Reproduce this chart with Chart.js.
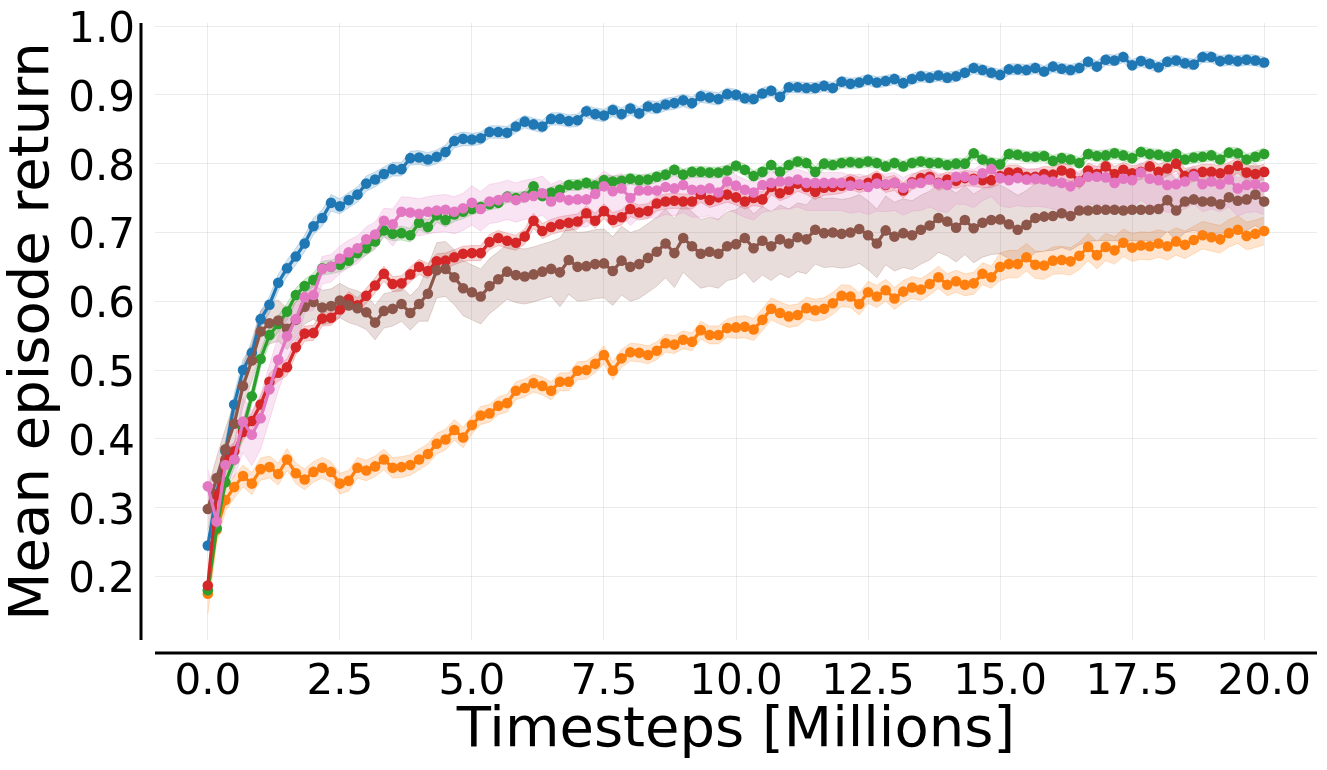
<!DOCTYPE html>
<html>
<head>
<meta charset="utf-8">
<script src="https://cdn.jsdelivr.net/npm/chart.js@4.4.1/dist/chart.umd.min.js"></script>
<style>
html, body { margin: 0; padding: 0; background: #fff; overflow: hidden; }
#wrap { width: 1327px; height: 770px; position: relative; }
#chart { display: block; }
</style>
</head>
<body>
<div id="wrap"><canvas id="chart"></canvas></div>
<script>
// evaluation every 1/6 million steps, 121 evaluations
var evalEvery = 1 / 6;
var nEvals = 121;
var timesteps = [];
for (var i = 0; i < nEvals; i++) timesteps.push(i * evalEvery);

var xTicks = [0, 2.5, 5, 7.5, 10, 12.5, 15, 17.5, 20];
var yTicks = [0.2, 0.3, 0.4, 0.5, 0.6, 0.7, 0.8, 0.9, 1.0];

// mean episode return per run
var blueMean = [
 0.245,0.320,0.382,0.450,0.500,0.525,0.574,0.595,0.627,0.648,
 0.665,0.684,0.709,0.721,0.743,0.738,0.747,0.755,0.771,0.777,
 0.785,0.792,0.792,0.808,0.809,0.806,0.810,0.817,0.833,0.836,
 0.835,0.837,0.846,0.846,0.845,0.854,0.861,0.857,0.854,0.865,
 0.865,0.862,0.863,0.876,0.872,0.870,0.878,0.872,0.880,0.873,
 0.883,0.881,0.886,0.888,0.892,0.888,0.898,0.896,0.894,0.901,
 0.900,0.895,0.894,0.902,0.906,0.897,0.911,0.911,0.910,0.910,
 0.913,0.910,0.919,0.916,0.918,0.922,0.918,0.920,0.923,0.917,
 0.923,0.927,0.925,0.928,0.925,0.927,0.932,0.939,0.936,0.932,
 0.929,0.937,0.937,0.936,0.939,0.934,0.941,0.938,0.936,0.939,
 0.948,0.941,0.951,0.950,0.955,0.943,0.949,0.945,0.940,0.948,
 0.950,0.946,0.944,0.955,0.955,0.949,0.951,0.949,0.951,0.950,
 0.947];
var orangeMean = [
 0.175,0.268,0.311,0.330,0.346,0.335,0.356,0.359,0.349,0.370,
 0.350,0.341,0.352,0.358,0.352,0.335,0.339,0.358,0.354,0.360,
 0.370,0.358,0.359,0.362,0.370,0.378,0.393,0.399,0.413,0.402,
 0.420,0.434,0.437,0.448,0.452,0.470,0.474,0.481,0.477,0.470,
 0.483,0.483,0.499,0.500,0.509,0.522,0.499,0.517,0.526,0.525,
 0.522,0.528,0.539,0.537,0.544,0.541,0.558,0.551,0.551,0.561,
 0.562,0.563,0.559,0.573,0.589,0.583,0.578,0.580,0.590,0.587,
 0.589,0.597,0.608,0.607,0.596,0.613,0.607,0.616,0.604,0.614,
 0.620,0.617,0.625,0.635,0.624,0.629,0.624,0.626,0.640,0.635,
 0.650,0.654,0.654,0.664,0.653,0.652,0.659,0.660,0.658,0.666,
 0.679,0.667,0.679,0.674,0.685,0.678,0.681,0.680,0.684,0.680,
 0.687,0.682,0.689,0.696,0.693,0.690,0.699,0.704,0.695,0.698,
 0.702];
var greenMean = [
 0.180,0.270,0.337,0.370,0.415,0.462,0.516,0.551,0.567,0.585,
 0.609,0.622,0.631,0.648,0.650,0.653,0.659,0.670,0.677,0.687,
 0.703,0.698,0.699,0.696,0.714,0.708,0.725,0.718,0.726,0.730,
 0.734,0.737,0.741,0.743,0.752,0.750,0.752,0.767,0.753,0.758,
 0.762,0.769,0.769,0.772,0.768,0.776,0.774,0.775,0.778,0.776,
 0.777,0.781,0.784,0.791,0.784,0.788,0.788,0.787,0.787,0.790,
 0.797,0.791,0.782,0.788,0.798,0.788,0.798,0.803,0.801,0.788,
 0.800,0.798,0.801,0.802,0.801,0.803,0.801,0.796,0.801,0.796,
 0.801,0.803,0.801,0.801,0.798,0.800,0.800,0.815,0.806,0.801,
 0.799,0.814,0.813,0.810,0.810,0.811,0.804,0.808,0.806,0.801,
 0.814,0.811,0.812,0.815,0.812,0.808,0.817,0.814,0.813,0.810,
 0.814,0.806,0.809,0.810,0.812,0.806,0.816,0.815,0.806,0.810,
 0.814];
var redMean = [
 0.187,0.318,0.370,0.382,0.410,0.426,0.450,0.483,0.496,0.504,
 0.533,0.553,0.554,0.575,0.576,0.588,0.603,0.594,0.608,0.623,
 0.640,0.625,0.626,0.639,0.650,0.644,0.658,0.659,0.664,0.669,
 0.670,0.670,0.686,0.692,0.688,0.685,0.694,0.717,0.702,0.708,
 0.712,0.714,0.716,0.728,0.717,0.731,0.718,0.722,0.734,0.729,
 0.731,0.742,0.745,0.746,0.745,0.745,0.755,0.747,0.751,0.755,
 0.751,0.745,0.750,0.748,0.766,0.757,0.762,0.771,0.766,0.759,
 0.765,0.766,0.768,0.774,0.769,0.772,0.779,0.769,0.772,0.761,
 0.773,0.779,0.781,0.772,0.777,0.775,0.779,0.778,0.776,0.776,
 0.782,0.787,0.787,0.781,0.781,0.785,0.784,0.790,0.786,0.774,
 0.790,0.785,0.796,0.785,0.791,0.786,0.788,0.796,0.788,0.793,
 0.800,0.782,0.785,0.788,0.788,0.786,0.791,0.797,0.787,0.785,
 0.788];
var brownMean = [
 0.298,0.343,0.385,0.422,0.477,0.514,0.556,0.568,0.572,0.560,
 0.573,0.592,0.599,0.591,0.593,0.601,0.594,0.590,0.584,0.569,
 0.586,0.589,0.596,0.583,0.596,0.611,0.645,0.647,0.635,0.619,
 0.613,0.607,0.622,0.632,0.643,0.638,0.636,0.639,0.643,0.647,
 0.642,0.660,0.650,0.651,0.654,0.655,0.644,0.659,0.650,0.654,
 0.663,0.672,0.684,0.670,0.692,0.680,0.669,0.672,0.669,0.680,
 0.683,0.692,0.677,0.688,0.680,0.690,0.684,0.693,0.690,0.704,
 0.699,0.700,0.698,0.700,0.705,0.696,0.684,0.703,0.694,0.699,
 0.696,0.704,0.710,0.721,0.716,0.707,0.718,0.706,0.714,0.718,
 0.719,0.712,0.704,0.711,0.721,0.723,0.724,0.728,0.724,0.732,
 0.732,0.733,0.733,0.733,0.732,0.733,0.733,0.733,0.734,0.747,
 0.732,0.745,0.748,0.745,0.745,0.741,0.751,0.746,0.748,0.755,
 0.745];
var pinkMean = [
 0.331,0.280,0.362,0.370,0.425,0.406,0.430,0.472,0.515,0.549,
 0.574,0.606,0.609,0.647,0.650,0.662,0.671,0.677,0.690,0.697,
 0.717,0.712,0.730,0.729,0.727,0.730,0.732,0.733,0.730,0.735,
 0.743,0.734,0.745,0.747,0.751,0.747,0.751,0.753,0.757,0.745,
 0.751,0.747,0.748,0.748,0.756,0.767,0.760,0.764,0.750,0.761,
 0.761,0.761,0.766,0.764,0.769,0.762,0.762,0.764,0.758,0.774,
 0.768,0.762,0.758,0.769,0.772,0.774,0.774,0.777,0.772,0.772,
 0.772,0.772,0.772,0.768,0.770,0.766,0.771,0.770,0.772,0.765,
 0.771,0.772,0.777,0.771,0.769,0.781,0.781,0.776,0.786,0.792,
 0.779,0.776,0.779,0.777,0.778,0.777,0.774,0.772,0.767,0.774,
 0.781,0.781,0.780,0.772,0.778,0.776,0.787,0.778,0.776,0.769,
 0.770,0.774,0.782,0.770,0.774,0.770,0.777,0.764,0.769,0.770,
 0.766];

// half-width of the shaded band around each mean
var blueSd = [
 0.010,0.015,0.015,0.015,0.015,0.012,0.012,0.012,0.012,0.012,
 0.012,0.012,0.012,0.012,0.012,0.011,0.011,0.011,0.011,0.011,
 0.010,0.010,0.010,0.010,0.010,0.010,0.010,0.010,0.010,0.010,
 0.009,0.009,0.009,0.009,0.009,0.009,0.009,0.009,0.009,0.009,
 0.009,0.009,0.009,0.009,0.009,0.009,0.009,0.009,0.009,0.009,
 0.009,0.009,0.009,0.009,0.009,0.009,0.009,0.009,0.009,0.009,
 0.008,0.008,0.008,0.008,0.008,0.008,0.008,0.008,0.008,0.008,
 0.008,0.008,0.008,0.008,0.008,0.008,0.008,0.008,0.008,0.008,
 0.008,0.008,0.008,0.008,0.008,0.008,0.008,0.008,0.008,0.008,
 0.008,0.008,0.008,0.008,0.008,0.008,0.008,0.008,0.008,0.008,
 0.008,0.008,0.008,0.008,0.008,0.008,0.008,0.008,0.008,0.008,
 0.008,0.008,0.008,0.008,0.008,0.008,0.008,0.008,0.008,0.008,
 0.008];
var orangeSd = [
 0.030,0.020,0.016,0.016,0.016,0.016,0.016,0.016,0.016,0.016,
 0.015,0.015,0.015,0.015,0.015,0.015,0.015,0.015,0.015,0.015,
 0.015,0.015,0.015,0.015,0.015,0.015,0.015,0.015,0.015,0.015,
 0.013,0.013,0.013,0.013,0.013,0.013,0.013,0.013,0.013,0.013,
 0.013,0.013,0.013,0.013,0.013,0.013,0.013,0.013,0.013,0.013,
 0.013,0.013,0.013,0.013,0.013,0.013,0.013,0.013,0.013,0.013,
 0.016,0.016,0.016,0.016,0.016,0.016,0.016,0.016,0.016,0.016,
 0.016,0.016,0.016,0.016,0.016,0.016,0.016,0.016,0.016,0.016,
 0.016,0.016,0.016,0.016,0.016,0.016,0.016,0.016,0.016,0.016,
 0.020,0.020,0.020,0.020,0.020,0.020,0.020,0.020,0.020,0.020,
 0.020,0.020,0.020,0.020,0.020,0.020,0.020,0.020,0.020,0.020,
 0.020,0.020,0.020,0.020,0.020,0.020,0.020,0.020,0.020,0.020,
 0.020];
var greenSd = [
 0.012,0.012,0.012,0.012,0.012,0.012,0.012,0.012,0.012,0.012,
 0.010,0.010,0.010,0.010,0.010,0.010,0.010,0.010,0.010,0.010,
 0.010,0.010,0.010,0.010,0.010,0.010,0.010,0.010,0.010,0.010,
 0.008,0.008,0.008,0.008,0.008,0.008,0.008,0.008,0.008,0.008,
 0.008,0.008,0.008,0.008,0.008,0.008,0.008,0.008,0.008,0.008,
 0.008,0.008,0.008,0.008,0.008,0.008,0.008,0.008,0.008,0.008,
 0.008,0.008,0.008,0.008,0.008,0.008,0.008,0.008,0.008,0.008,
 0.008,0.008,0.008,0.008,0.008,0.008,0.008,0.008,0.008,0.008,
 0.008,0.008,0.008,0.008,0.008,0.008,0.008,0.008,0.008,0.008,
 0.008,0.008,0.008,0.008,0.008,0.008,0.008,0.008,0.008,0.008,
 0.008,0.008,0.008,0.008,0.008,0.008,0.008,0.008,0.008,0.008,
 0.008,0.008,0.008,0.008,0.008,0.008,0.008,0.008,0.008,0.008,
 0.009];
var redSd = [
 0.012,0.012,0.012,0.012,0.012,0.012,0.012,0.012,0.012,0.012,
 0.011,0.011,0.011,0.011,0.011,0.011,0.011,0.011,0.011,0.011,
 0.011,0.011,0.011,0.011,0.011,0.011,0.011,0.011,0.011,0.011,
 0.011,0.011,0.011,0.011,0.011,0.011,0.011,0.011,0.011,0.011,
 0.011,0.011,0.011,0.011,0.011,0.011,0.011,0.011,0.011,0.011,
 0.011,0.011,0.011,0.011,0.011,0.011,0.011,0.011,0.011,0.011,
 0.011,0.011,0.011,0.011,0.011,0.011,0.011,0.011,0.011,0.011,
 0.011,0.011,0.011,0.011,0.011,0.011,0.011,0.011,0.011,0.011,
 0.011,0.011,0.011,0.011,0.011,0.011,0.011,0.011,0.011,0.011,
 0.011,0.011,0.011,0.011,0.011,0.011,0.011,0.011,0.011,0.011,
 0.011,0.011,0.011,0.011,0.011,0.011,0.011,0.011,0.011,0.011,
 0.011,0.011,0.011,0.011,0.011,0.011,0.011,0.011,0.011,0.011,
 0.011];
var brownSd = [
 0.030,0.030,0.030,0.030,0.030,0.030,0.030,0.030,0.030,0.030,
 0.025,0.025,0.025,0.025,0.025,0.025,0.025,0.025,0.025,0.025,
 0.025,0.025,0.025,0.025,0.025,0.040,0.040,0.040,0.040,0.040,
 0.040,0.040,0.040,0.040,0.040,0.040,0.040,0.040,0.040,0.040,
 0.050,0.050,0.050,0.050,0.050,0.050,0.050,0.050,0.050,0.050,
 0.050,0.050,0.050,0.050,0.050,0.050,0.050,0.050,0.050,0.050,
 0.050,0.050,0.050,0.050,0.050,0.050,0.050,0.050,0.050,0.050,
 0.050,0.050,0.050,0.050,0.050,0.050,0.050,0.050,0.050,0.050,
 0.050,0.050,0.050,0.050,0.050,0.050,0.050,0.050,0.050,0.050,
 0.050,0.050,0.050,0.050,0.050,0.050,0.050,0.050,0.050,0.050,
 0.045,0.045,0.045,0.045,0.045,0.045,0.045,0.045,0.045,0.045,
 0.045,0.045,0.045,0.045,0.045,0.045,0.045,0.045,0.045,0.045,
 0.045];
// pink band is lopsided: wider below the mean than above
var pinkSdLo = [
 0.025,0.025,0.025,0.025,0.045,0.045,0.045,0.045,0.045,0.045,
 0.045,0.022,0.022,0.022,0.022,0.022,0.022,0.022,0.022,0.022,
 0.022,0.032,0.032,0.032,0.032,0.032,0.032,0.032,0.032,0.032,
 0.032,0.032,0.032,0.032,0.032,0.032,0.032,0.032,0.032,0.032,
 0.032,0.040,0.040,0.040,0.040,0.040,0.040,0.040,0.040,0.040,
 0.040,0.040,0.040,0.040,0.040,0.040,0.040,0.040,0.040,0.040,
 0.040,0.040,0.040,0.040,0.040,0.040,0.040,0.040,0.040,0.040,
 0.040,0.040,0.040,0.040,0.040,0.040,0.040,0.040,0.040,0.040,
 0.040,0.040,0.040,0.040,0.040,0.040,0.040,0.040,0.040,0.040,
 0.040,0.040,0.040,0.040,0.040,0.040,0.040,0.040,0.040,0.040,
 0.040,0.040,0.040,0.040,0.040,0.040,0.040,0.040,0.040,0.040,
 0.040,0.040,0.040,0.040,0.040,0.040,0.040,0.040,0.040,0.040,
 0.040];
var pinkSdHi = [
 0.025,0.025,0.025,0.025,0.035,0.035,0.035,0.035,0.035,0.035,
 0.035,0.018,0.018,0.018,0.018,0.018,0.018,0.018,0.018,0.018,
 0.018,0.022,0.022,0.022,0.022,0.022,0.022,0.022,0.022,0.022,
 0.025,0.025,0.025,0.025,0.025,0.025,0.025,0.025,0.025,0.025,
 0.025,0.022,0.022,0.022,0.022,0.022,0.022,0.022,0.022,0.022,
 0.022,0.022,0.022,0.022,0.022,0.022,0.022,0.022,0.022,0.022,
 0.015,0.015,0.015,0.015,0.015,0.015,0.015,0.015,0.015,0.015,
 0.015,0.015,0.015,0.015,0.015,0.015,0.015,0.015,0.015,0.015,
 0.015,0.015,0.015,0.015,0.015,0.015,0.015,0.015,0.015,0.015,
 0.015,0.015,0.015,0.015,0.015,0.015,0.015,0.015,0.015,0.015,
 0.015,0.015,0.015,0.015,0.015,0.015,0.015,0.015,0.015,0.015,
 0.015,0.015,0.015,0.015,0.015,0.015,0.015,0.015,0.015,0.015,
 0.015];

// drawing order: later ones end up on top
var series = [
  { mean: blueMean,   lo: blueSd,   hi: blueSd,   rgb: '31,119,180' },
  { mean: orangeMean, lo: orangeSd, hi: orangeSd, rgb: '255,127,14' },
  { mean: greenMean,  lo: greenSd,  hi: greenSd,  rgb: '44,160,44' },
  { mean: redMean,    lo: redSd,    hi: redSd,    rgb: '214,39,40' },
  { mean: brownMean,  lo: brownSd,  hi: brownSd,  rgb: '140,86,75' },
  { mean: pinkMean,   lo: pinkSdLo, hi: pinkSdHi, rgb: '227,119,194' }
];

var FONT = 'DejaVu Sans';

var datasets = [];
series.forEach(function (s, k) {
  var lower = [], upper = [], line = [];
  for (var i = 0; i < nEvals; i++) {
    lower.push({ x: timesteps[i], y: s.mean[i] - s.lo[i] });
    upper.push({ x: timesteps[i], y: s.mean[i] + s.hi[i] });
    line.push({ x: timesteps[i], y: s.mean[i] });
  }
  datasets.push({
    data: lower, order: 20 - k, fill: false, pointRadius: 0,
    borderWidth: 1, borderColor: 'rgba(' + s.rgb + ',0.22)'
  });
  datasets.push({
    data: upper, order: 20 - k, fill: '-1', pointRadius: 0,
    borderWidth: 1, borderColor: 'rgba(' + s.rgb + ',0.22)',
    backgroundColor: 'rgba(' + s.rgb + ',0.2)'
  });
  datasets.push({
    data: line, order: 10 - k, fill: false,
    borderColor: 'rgb(' + s.rgb + ')', borderWidth: 3.2,
    pointRadius: 5.3, pointBorderWidth: 0,
    pointBackgroundColor: 'rgb(' + s.rgb + ')'
  });
});

// seaborn-ish offset spines
var offsetSpines = {
  id: 'offsetSpines',
  afterDraw: function (chart) {
    var a = chart.chartArea, ctx = chart.ctx;
    ctx.save();
    ctx.strokeStyle = '#000';
    ctx.lineWidth = 3;
    ctx.beginPath();
    ctx.moveTo(a.left - 14, a.top);
    ctx.lineTo(a.left - 14, a.bottom);
    ctx.moveTo(a.left, a.bottom + 13);
    ctx.lineTo(a.right, a.bottom + 13);
    ctx.stroke();
    ctx.restore();
  }
};

var ctx = document.getElementById('chart').getContext('2d');
new Chart(ctx, {
  type: 'line',
  data: { datasets: datasets },
  options: {
    responsive: true,
    maintainAspectRatio: false,
    animation: false,
    events: [],
    layout: { padding: { top: 23, right: 10, left: 0, bottom: 0 } },
    plugins: { legend: { display: false }, tooltip: { enabled: false } },
    scales: {
      x: {
        type: 'linear', min: -1, max: 21,
        afterBuildTicks: function (s) { s.ticks = xTicks.map(function (v) { return { value: v }; }); },
        afterFit: function (s) { s.height = 130; s.paddingLeft = 0; s.paddingRight = 0; },
        ticks: {
          callback: function (v) { return v.toFixed(1); },
          font: { family: FONT, size: 42 }, color: '#000',
          padding: 18, maxRotation: 0, autoSkip: false
        },
        grid: { color: 'rgba(0,0,0,0.08)', lineWidth: 1, drawTicks: false },
        border: { display: false },
        title: {
          display: true, text: 'Timesteps [Millions]', color: '#000',
          font: { family: FONT, size: 56 }, padding: { top: 5, bottom: 5 }
        }
      },
      y: {
        type: 'linear', min: 0.1077, max: 1.0044,
        afterBuildTicks: function (s) { s.ticks = yTicks.map(function (v) { return { value: v }; }); },
        afterFit: function (s) { s.width = 155; s.paddingTop = 0; s.paddingBottom = 0; },
        ticks: {
          callback: function (v) { return v.toFixed(1); },
          font: { family: FONT, size: 42 }, color: '#000',
          padding: 20, labelOffset: 5, autoSkip: false
        },
        grid: { color: 'rgba(0,0,0,0.08)', lineWidth: 1, drawTicks: false },
        border: { display: false },
        title: {
          display: true, text: 'Mean episode return', color: '#000',
          font: { family: FONT, size: 56 }, padding: { top: 0, bottom: 0 }
        }
      }
    }
  },
  plugins: [offsetSpines]
});
</script>
</body>
</html>
